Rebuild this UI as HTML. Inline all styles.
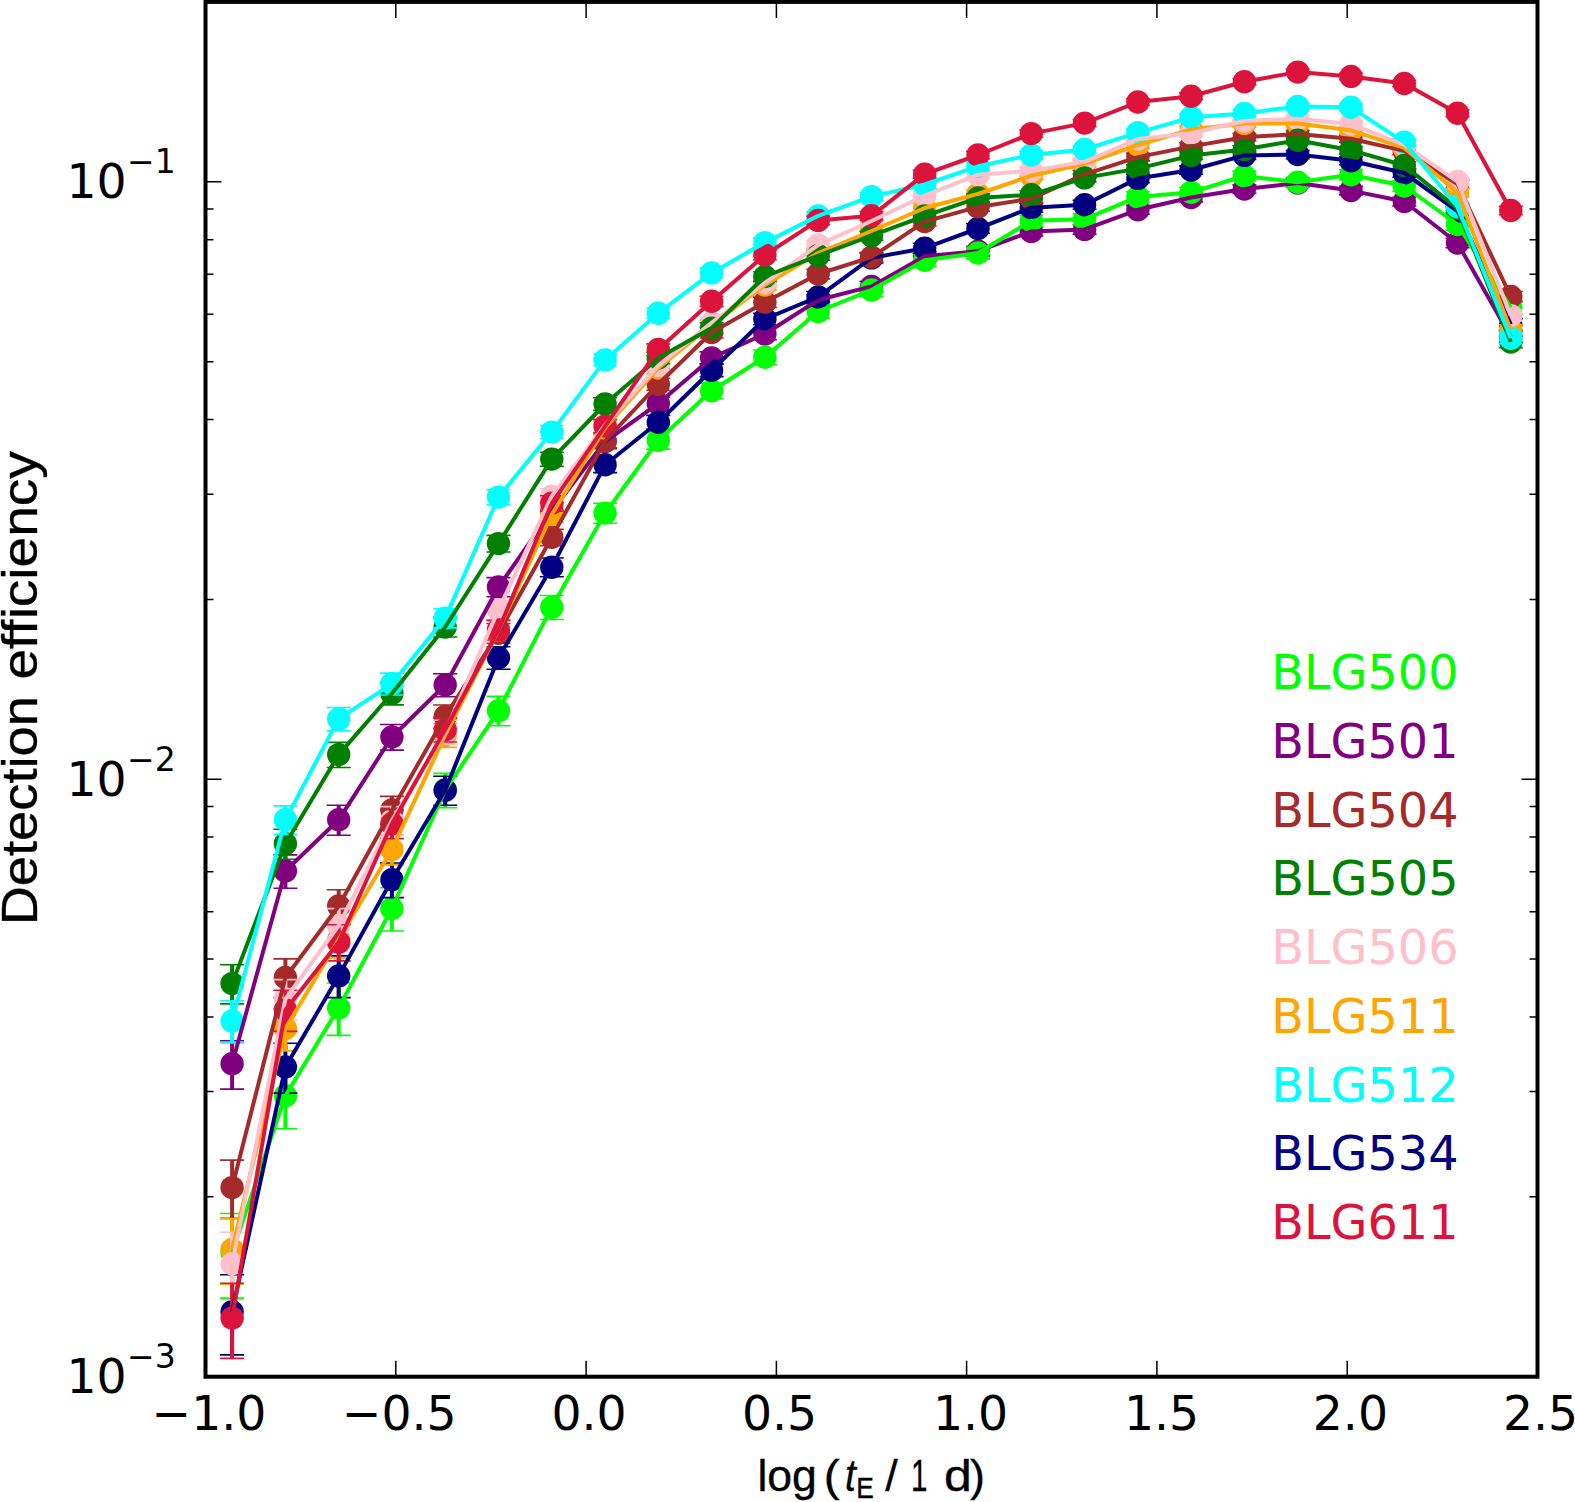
<!DOCTYPE html>
<html><head><meta charset="utf-8"><title>Detection efficiency</title>
<style>html,body{margin:0;padding:0;background:#fff;overflow:hidden}svg{display:block}
.t{font-family:"DejaVu Sans","Liberation Sans",sans-serif;font-size:47.3px;fill:#000}
.s{font-family:"DejaVu Sans","Liberation Sans",sans-serif;font-size:33.1px;fill:#000}
.a{font-family:"Liberation Sans","DejaVu Sans",sans-serif;fill:#000}
</style></head><body>
<svg width="1575" height="1502" viewBox="0 0 1575 1502">
<rect width="1575" height="1502" fill="#fff"/>
<g id="markers">
<g fill="#800080" stroke="#800080">
<path d="M232.1 1040.7V1089.1" stroke-width="4.0" fill="none"/><path d="M220.1 1040.7h24.0M220.1 1089.1h24.0" stroke-width="1.6" fill="none"/><circle cx="232.1" cy="1063.8" r="11.7" stroke="none"/>
<path d="M285.4 854.9V888.2" stroke-width="4.0" fill="none"/><path d="M273.4 854.9h24.0M273.4 888.2h24.0" stroke-width="1.6" fill="none"/><circle cx="285.4" cy="871.0" r="11.7" stroke="none"/>
<path d="M338.7 805.2V835.3" stroke-width="4.0" fill="none"/><path d="M326.7 805.2h24.0M326.7 835.3h24.0" stroke-width="1.6" fill="none"/><circle cx="338.7" cy="819.8" r="11.7" stroke="none"/>
<path d="M391.9 724.5V750.1" stroke-width="4.0" fill="none"/><path d="M379.9 724.5h24.0M379.9 750.1h24.0" stroke-width="1.6" fill="none"/><circle cx="391.9" cy="737.0" r="11.7" stroke="none"/>
<path d="M445.2 673.7V696.8" stroke-width="4.0" fill="none"/><path d="M433.2 673.7h24.0M433.2 696.8h24.0" stroke-width="1.6" fill="none"/><circle cx="445.2" cy="685.0" r="11.7" stroke="none"/>
<path d="M498.5 577.6V596.7" stroke-width="4.0" fill="none"/><path d="M486.5 577.6h24.0M486.5 596.7h24.0" stroke-width="1.6" fill="none"/><circle cx="498.5" cy="587.0" r="11.7" stroke="none"/>
<path d="M551.8 502.9V519.3" stroke-width="4.0" fill="none"/><path d="M539.8 502.9h24.0M539.8 519.3h24.0" stroke-width="1.6" fill="none"/><circle cx="551.8" cy="511.0" r="11.7" stroke="none"/>
<path d="M605.1 434.4V448.8" stroke-width="4.0" fill="none"/><path d="M593.1 434.4h24.0M593.1 448.8h24.0" stroke-width="1.6" fill="none"/><circle cx="605.1" cy="441.5" r="11.7" stroke="none"/>
<path d="M658.3 397.1V410.3" stroke-width="4.0" fill="none"/><path d="M646.3 397.1h24.0M646.3 410.3h24.0" stroke-width="1.6" fill="none"/><circle cx="658.3" cy="403.6" r="11.7" stroke="none"/>
<path d="M711.6 351.9V364.0" stroke-width="4.0" fill="none"/><path d="M699.6 351.9h24.0M699.6 364.0h24.0" stroke-width="1.6" fill="none"/><circle cx="711.6" cy="357.9" r="11.7" stroke="none"/>
<path d="M764.9 328.3V339.8" stroke-width="4.0" fill="none"/><path d="M752.9 328.3h24.0M752.9 339.8h24.0" stroke-width="1.6" fill="none"/><circle cx="764.9" cy="334.0" r="11.7" stroke="none"/>
<path d="M818.2 294.7V305.4" stroke-width="4.0" fill="none"/><path d="M806.2 294.7h24.0M806.2 305.4h24.0" stroke-width="1.6" fill="none"/><circle cx="818.2" cy="300.0" r="11.7" stroke="none"/>
<path d="M871.5 281.2V291.7" stroke-width="4.0" fill="none"/><path d="M859.5 281.2h24.0M859.5 291.7h24.0" stroke-width="1.6" fill="none"/><circle cx="871.5" cy="286.4" r="11.7" stroke="none"/>
<path d="M924.7 251.3V261.2" stroke-width="4.0" fill="none"/><path d="M912.7 251.3h24.0M912.7 261.2h24.0" stroke-width="1.6" fill="none"/><circle cx="924.7" cy="256.2" r="11.7" stroke="none"/>
<path d="M978.0 246.4V256.1" stroke-width="4.0" fill="none"/><path d="M966.0 246.4h24.0M966.0 256.1h24.0" stroke-width="1.6" fill="none"/><circle cx="978.0" cy="251.2" r="11.7" stroke="none"/>
<path d="M1031.3 226.8V236.1" stroke-width="4.0" fill="none"/><path d="M1019.3 226.8h24.0M1019.3 236.1h24.0" stroke-width="1.6" fill="none"/><circle cx="1031.3" cy="231.4" r="11.7" stroke="none"/>
<path d="M1084.6 224.8V234.1" stroke-width="4.0" fill="none"/><path d="M1072.6 224.8h24.0M1072.6 234.1h24.0" stroke-width="1.6" fill="none"/><circle cx="1084.6" cy="229.4" r="11.7" stroke="none"/>
<path d="M1137.9 205.4V214.3" stroke-width="4.0" fill="none"/><path d="M1125.9 205.4h24.0M1125.9 214.3h24.0" stroke-width="1.6" fill="none"/><circle cx="1137.9" cy="209.8" r="11.7" stroke="none"/>
<path d="M1191.1 193.2V201.9" stroke-width="4.0" fill="none"/><path d="M1179.1 193.2h24.0M1179.1 201.9h24.0" stroke-width="1.6" fill="none"/><circle cx="1191.1" cy="197.5" r="11.7" stroke="none"/>
<path d="M1244.4 184.9V193.4" stroke-width="4.0" fill="none"/><path d="M1232.4 184.9h24.0M1232.4 193.4h24.0" stroke-width="1.6" fill="none"/><circle cx="1244.4" cy="189.1" r="11.7" stroke="none"/>
<path d="M1297.7 178.9V187.3" stroke-width="4.0" fill="none"/><path d="M1285.7 178.9h24.0M1285.7 187.3h24.0" stroke-width="1.6" fill="none"/><circle cx="1297.7" cy="183.1" r="11.7" stroke="none"/>
<path d="M1351.0 186.4V194.9" stroke-width="4.0" fill="none"/><path d="M1339.0 186.4h24.0M1339.0 194.9h24.0" stroke-width="1.6" fill="none"/><circle cx="1351.0" cy="190.6" r="11.7" stroke="none"/>
<path d="M1404.3 197.2V205.9" stroke-width="4.0" fill="none"/><path d="M1392.3 197.2h24.0M1392.3 205.9h24.0" stroke-width="1.6" fill="none"/><circle cx="1404.3" cy="201.5" r="11.7" stroke="none"/>
<path d="M1457.5 238.3V247.8" stroke-width="4.0" fill="none"/><path d="M1445.5 238.3h24.0M1445.5 247.8h24.0" stroke-width="1.6" fill="none"/><circle cx="1457.5" cy="243.0" r="11.7" stroke="none"/>
<path d="M1510.8 331.3V342.9" stroke-width="4.0" fill="none"/><path d="M1498.8 331.3h24.0M1498.8 342.9h24.0" stroke-width="1.6" fill="none"/><circle cx="1510.8" cy="337.0" r="11.7" stroke="none"/>
</g>
<g fill="#00ff00" stroke="#00ff00">
<path d="M232.1 1213.5V1298.1" stroke-width="4.0" fill="none"/><path d="M220.1 1213.5h24.0M220.1 1298.1h24.0" stroke-width="1.6" fill="none"/><circle cx="232.1" cy="1252.4" r="11.7" stroke="none"/>
<path d="M285.4 1066.4V1128.7" stroke-width="4.0" fill="none"/><path d="M273.4 1066.4h24.0M273.4 1128.7h24.0" stroke-width="1.6" fill="none"/><circle cx="285.4" cy="1095.7" r="11.7" stroke="none"/>
<path d="M338.7 983.0V1035.4" stroke-width="4.0" fill="none"/><path d="M326.7 983.0h24.0M326.7 1035.4h24.0" stroke-width="1.6" fill="none"/><circle cx="338.7" cy="1007.9" r="11.7" stroke="none"/>
<path d="M391.9 887.8V931.0" stroke-width="4.0" fill="none"/><path d="M379.9 887.8h24.0M379.9 931.0h24.0" stroke-width="1.6" fill="none"/><circle cx="391.9" cy="908.5" r="11.7" stroke="none"/>
<path d="M445.2 773.4V807.7" stroke-width="4.0" fill="none"/><path d="M433.2 773.4h24.0M433.2 807.7h24.0" stroke-width="1.6" fill="none"/><circle cx="445.2" cy="790.0" r="11.7" stroke="none"/>
<path d="M498.5 696.4V725.8" stroke-width="4.0" fill="none"/><path d="M486.5 696.4h24.0M486.5 725.8h24.0" stroke-width="1.6" fill="none"/><circle cx="498.5" cy="710.7" r="11.7" stroke="none"/>
<path d="M551.8 595.5V619.5" stroke-width="4.0" fill="none"/><path d="M539.8 595.5h24.0M539.8 619.5h24.0" stroke-width="1.6" fill="none"/><circle cx="551.8" cy="607.2" r="11.7" stroke="none"/>
<path d="M605.1 503.3V523.2" stroke-width="4.0" fill="none"/><path d="M593.1 503.3h24.0M593.1 523.2h24.0" stroke-width="1.6" fill="none"/><circle cx="605.1" cy="513.1" r="11.7" stroke="none"/>
<path d="M658.3 431.8V449.1" stroke-width="4.0" fill="none"/><path d="M646.3 431.8h24.0M646.3 449.1h24.0" stroke-width="1.6" fill="none"/><circle cx="658.3" cy="440.3" r="11.7" stroke="none"/>
<path d="M711.6 383.1V398.7" stroke-width="4.0" fill="none"/><path d="M699.6 383.1h24.0M699.6 398.7h24.0" stroke-width="1.6" fill="none"/><circle cx="711.6" cy="390.8" r="11.7" stroke="none"/>
<path d="M764.9 350.0V364.6" stroke-width="4.0" fill="none"/><path d="M752.9 350.0h24.0M752.9 364.6h24.0" stroke-width="1.6" fill="none"/><circle cx="764.9" cy="357.2" r="11.7" stroke="none"/>
<path d="M818.2 305.0V318.2" stroke-width="4.0" fill="none"/><path d="M806.2 305.0h24.0M806.2 318.2h24.0" stroke-width="1.6" fill="none"/><circle cx="818.2" cy="311.5" r="11.7" stroke="none"/>
<path d="M871.5 283.7V296.4" stroke-width="4.0" fill="none"/><path d="M859.5 283.7h24.0M859.5 296.4h24.0" stroke-width="1.6" fill="none"/><circle cx="871.5" cy="290.0" r="11.7" stroke="none"/>
<path d="M924.7 254.4V266.3" stroke-width="4.0" fill="none"/><path d="M912.7 254.4h24.0M912.7 266.3h24.0" stroke-width="1.6" fill="none"/><circle cx="924.7" cy="260.3" r="11.7" stroke="none"/>
<path d="M978.0 247.2V258.9" stroke-width="4.0" fill="none"/><path d="M966.0 247.2h24.0M966.0 258.9h24.0" stroke-width="1.6" fill="none"/><circle cx="978.0" cy="253.0" r="11.7" stroke="none"/>
<path d="M1031.3 215.4V226.4" stroke-width="4.0" fill="none"/><path d="M1019.3 215.4h24.0M1019.3 226.4h24.0" stroke-width="1.6" fill="none"/><circle cx="1031.3" cy="220.8" r="11.7" stroke="none"/>
<path d="M1084.6 213.8V224.7" stroke-width="4.0" fill="none"/><path d="M1072.6 213.8h24.0M1072.6 224.7h24.0" stroke-width="1.6" fill="none"/><circle cx="1084.6" cy="219.2" r="11.7" stroke="none"/>
<path d="M1137.9 191.7V202.2" stroke-width="4.0" fill="none"/><path d="M1125.9 191.7h24.0M1125.9 202.2h24.0" stroke-width="1.6" fill="none"/><circle cx="1137.9" cy="196.9" r="11.7" stroke="none"/>
<path d="M1191.1 187.2V197.5" stroke-width="4.0" fill="none"/><path d="M1179.1 187.2h24.0M1179.1 197.5h24.0" stroke-width="1.6" fill="none"/><circle cx="1191.1" cy="192.3" r="11.7" stroke="none"/>
<path d="M1244.4 171.1V181.0" stroke-width="4.0" fill="none"/><path d="M1232.4 171.1h24.0M1232.4 181.0h24.0" stroke-width="1.6" fill="none"/><circle cx="1244.4" cy="176.0" r="11.7" stroke="none"/>
<path d="M1297.7 177.3V187.4" stroke-width="4.0" fill="none"/><path d="M1285.7 177.3h24.0M1285.7 187.4h24.0" stroke-width="1.6" fill="none"/><circle cx="1297.7" cy="182.3" r="11.7" stroke="none"/>
<path d="M1351.0 169.8V179.7" stroke-width="4.0" fill="none"/><path d="M1339.0 169.8h24.0M1339.0 179.7h24.0" stroke-width="1.6" fill="none"/><circle cx="1351.0" cy="174.7" r="11.7" stroke="none"/>
<path d="M1404.3 180.9V191.2" stroke-width="4.0" fill="none"/><path d="M1392.3 180.9h24.0M1392.3 191.2h24.0" stroke-width="1.6" fill="none"/><circle cx="1404.3" cy="186.0" r="11.7" stroke="none"/>
<path d="M1457.5 219.0V230.1" stroke-width="4.0" fill="none"/><path d="M1445.5 219.0h24.0M1445.5 230.1h24.0" stroke-width="1.6" fill="none"/><circle cx="1457.5" cy="224.5" r="11.7" stroke="none"/>
<path d="M1510.8 301.0V314.2" stroke-width="4.0" fill="none"/><path d="M1498.8 301.0h24.0M1498.8 314.2h24.0" stroke-width="1.6" fill="none"/><circle cx="1510.8" cy="307.5" r="11.7" stroke="none"/>
</g>
<g fill="#000080" stroke="#000080">
<path d="M232.1 1274.7V1354.9" stroke-width="4.0" fill="none"/><path d="M220.1 1274.7h24.0M220.1 1354.9h24.0" stroke-width="1.6" fill="none"/><circle cx="232.1" cy="1311.7" r="11.7" stroke="none"/>
<path d="M285.4 1043.3V1093.1" stroke-width="4.0" fill="none"/><path d="M273.4 1043.3h24.0M273.4 1093.1h24.0" stroke-width="1.6" fill="none"/><circle cx="285.4" cy="1067.0" r="11.7" stroke="none"/>
<path d="M338.7 955.9V997.6" stroke-width="4.0" fill="none"/><path d="M326.7 955.9h24.0M326.7 997.6h24.0" stroke-width="1.6" fill="none"/><circle cx="338.7" cy="975.9" r="11.7" stroke="none"/>
<path d="M391.9 863.0V897.6" stroke-width="4.0" fill="none"/><path d="M379.9 863.0h24.0M379.9 897.6h24.0" stroke-width="1.6" fill="none"/><circle cx="391.9" cy="879.7" r="11.7" stroke="none"/>
<path d="M445.2 776.2V805.2" stroke-width="4.0" fill="none"/><path d="M433.2 776.2h24.0M433.2 805.2h24.0" stroke-width="1.6" fill="none"/><circle cx="445.2" cy="790.3" r="11.7" stroke="none"/>
<path d="M498.5 646.7V669.2" stroke-width="4.0" fill="none"/><path d="M486.5 646.7h24.0M486.5 669.2h24.0" stroke-width="1.6" fill="none"/><circle cx="498.5" cy="657.7" r="11.7" stroke="none"/>
<path d="M551.8 558.0V576.8" stroke-width="4.0" fill="none"/><path d="M539.8 558.0h24.0M539.8 576.8h24.0" stroke-width="1.6" fill="none"/><circle cx="551.8" cy="567.2" r="11.7" stroke="none"/>
<path d="M605.1 457.3V472.6" stroke-width="4.0" fill="none"/><path d="M593.1 457.3h24.0M593.1 472.6h24.0" stroke-width="1.6" fill="none"/><circle cx="605.1" cy="464.8" r="11.7" stroke="none"/>
<path d="M658.3 415.4V429.4" stroke-width="4.0" fill="none"/><path d="M646.3 415.4h24.0M646.3 429.4h24.0" stroke-width="1.6" fill="none"/><circle cx="658.3" cy="422.3" r="11.7" stroke="none"/>
<path d="M711.6 363.9V376.6" stroke-width="4.0" fill="none"/><path d="M699.6 363.9h24.0M699.6 376.6h24.0" stroke-width="1.6" fill="none"/><circle cx="711.6" cy="370.2" r="11.7" stroke="none"/>
<path d="M764.9 313.4V324.8" stroke-width="4.0" fill="none"/><path d="M752.9 313.4h24.0M752.9 324.8h24.0" stroke-width="1.6" fill="none"/><circle cx="764.9" cy="319.0" r="11.7" stroke="none"/>
<path d="M818.2 291.5V302.4" stroke-width="4.0" fill="none"/><path d="M806.2 291.5h24.0M806.2 302.4h24.0" stroke-width="1.6" fill="none"/><circle cx="818.2" cy="296.9" r="11.7" stroke="none"/>
<path d="M871.5 252.9V263.0" stroke-width="4.0" fill="none"/><path d="M859.5 252.9h24.0M859.5 263.0h24.0" stroke-width="1.6" fill="none"/><circle cx="871.5" cy="257.9" r="11.7" stroke="none"/>
<path d="M924.7 243.3V253.2" stroke-width="4.0" fill="none"/><path d="M912.7 243.3h24.0M912.7 253.2h24.0" stroke-width="1.6" fill="none"/><circle cx="924.7" cy="248.2" r="11.7" stroke="none"/>
<path d="M978.0 223.8V233.3" stroke-width="4.0" fill="none"/><path d="M966.0 223.8h24.0M966.0 233.3h24.0" stroke-width="1.6" fill="none"/><circle cx="978.0" cy="228.5" r="11.7" stroke="none"/>
<path d="M1031.3 203.2V212.3" stroke-width="4.0" fill="none"/><path d="M1019.3 203.2h24.0M1019.3 212.3h24.0" stroke-width="1.6" fill="none"/><circle cx="1031.3" cy="207.7" r="11.7" stroke="none"/>
<path d="M1084.6 200.2V209.2" stroke-width="4.0" fill="none"/><path d="M1072.6 200.2h24.0M1072.6 209.2h24.0" stroke-width="1.6" fill="none"/><circle cx="1084.6" cy="204.7" r="11.7" stroke="none"/>
<path d="M1137.9 174.2V182.7" stroke-width="4.0" fill="none"/><path d="M1125.9 174.2h24.0M1125.9 182.7h24.0" stroke-width="1.6" fill="none"/><circle cx="1137.9" cy="178.4" r="11.7" stroke="none"/>
<path d="M1191.1 165.9V174.2" stroke-width="4.0" fill="none"/><path d="M1179.1 165.9h24.0M1179.1 174.2h24.0" stroke-width="1.6" fill="none"/><circle cx="1191.1" cy="170.0" r="11.7" stroke="none"/>
<path d="M1244.4 151.4V159.5" stroke-width="4.0" fill="none"/><path d="M1232.4 151.4h24.0M1232.4 159.5h24.0" stroke-width="1.6" fill="none"/><circle cx="1244.4" cy="155.4" r="11.7" stroke="none"/>
<path d="M1297.7 150.6V158.7" stroke-width="4.0" fill="none"/><path d="M1285.7 150.6h24.0M1285.7 158.7h24.0" stroke-width="1.6" fill="none"/><circle cx="1297.7" cy="154.6" r="11.7" stroke="none"/>
<path d="M1351.0 156.6V164.8" stroke-width="4.0" fill="none"/><path d="M1339.0 156.6h24.0M1339.0 164.8h24.0" stroke-width="1.6" fill="none"/><circle cx="1351.0" cy="160.7" r="11.7" stroke="none"/>
<path d="M1404.3 168.8V177.2" stroke-width="4.0" fill="none"/><path d="M1392.3 168.8h24.0M1392.3 177.2h24.0" stroke-width="1.6" fill="none"/><circle cx="1404.3" cy="173.0" r="11.7" stroke="none"/>
<path d="M1457.5 206.5V215.6" stroke-width="4.0" fill="none"/><path d="M1445.5 206.5h24.0M1445.5 215.6h24.0" stroke-width="1.6" fill="none"/><circle cx="1457.5" cy="211.0" r="11.7" stroke="none"/>
<path d="M1510.8 318.7V330.2" stroke-width="4.0" fill="none"/><path d="M1498.8 318.7h24.0M1498.8 330.2h24.0" stroke-width="1.6" fill="none"/><circle cx="1510.8" cy="324.4" r="11.7" stroke="none"/>
</g>
<g fill="#a52a2a" stroke="#a52a2a">
<path d="M232.1 1160.1V1218.4" stroke-width="4.0" fill="none"/><path d="M220.1 1160.1h24.0M220.1 1218.4h24.0" stroke-width="1.6" fill="none"/><circle cx="232.1" cy="1187.6" r="11.7" stroke="none"/>
<path d="M285.4 958.9V997.6" stroke-width="4.0" fill="none"/><path d="M273.4 958.9h24.0M273.4 997.6h24.0" stroke-width="1.6" fill="none"/><circle cx="285.4" cy="977.5" r="11.7" stroke="none"/>
<path d="M338.7 889.7V923.4" stroke-width="4.0" fill="none"/><path d="M326.7 889.7h24.0M326.7 923.4h24.0" stroke-width="1.6" fill="none"/><circle cx="338.7" cy="906.0" r="11.7" stroke="none"/>
<path d="M391.9 796.4V824.4" stroke-width="4.0" fill="none"/><path d="M379.9 796.4h24.0M379.9 824.4h24.0" stroke-width="1.6" fill="none"/><circle cx="391.9" cy="810.0" r="11.7" stroke="none"/>
<path d="M445.2 705.0V728.3" stroke-width="4.0" fill="none"/><path d="M433.2 705.0h24.0M433.2 728.3h24.0" stroke-width="1.6" fill="none"/><circle cx="445.2" cy="716.4" r="11.7" stroke="none"/>
<path d="M498.5 623.5V643.3" stroke-width="4.0" fill="none"/><path d="M486.5 623.5h24.0M486.5 643.3h24.0" stroke-width="1.6" fill="none"/><circle cx="498.5" cy="633.2" r="11.7" stroke="none"/>
<path d="M551.8 529.2V545.6" stroke-width="4.0" fill="none"/><path d="M539.8 529.2h24.0M539.8 545.6h24.0" stroke-width="1.6" fill="none"/><circle cx="551.8" cy="537.3" r="11.7" stroke="none"/>
<path d="M605.1 434.3V447.9" stroke-width="4.0" fill="none"/><path d="M593.1 434.3h24.0M593.1 447.9h24.0" stroke-width="1.6" fill="none"/><circle cx="605.1" cy="441.0" r="11.7" stroke="none"/>
<path d="M658.3 378.2V390.3" stroke-width="4.0" fill="none"/><path d="M646.3 378.2h24.0M646.3 390.3h24.0" stroke-width="1.6" fill="none"/><circle cx="658.3" cy="384.2" r="11.7" stroke="none"/>
<path d="M711.6 327.1V338.0" stroke-width="4.0" fill="none"/><path d="M699.6 327.1h24.0M699.6 338.0h24.0" stroke-width="1.6" fill="none"/><circle cx="711.6" cy="332.5" r="11.7" stroke="none"/>
<path d="M764.9 297.1V307.4" stroke-width="4.0" fill="none"/><path d="M752.9 297.1h24.0M752.9 307.4h24.0" stroke-width="1.6" fill="none"/><circle cx="764.9" cy="302.2" r="11.7" stroke="none"/>
<path d="M818.2 269.2V278.9" stroke-width="4.0" fill="none"/><path d="M806.2 269.2h24.0M806.2 278.9h24.0" stroke-width="1.6" fill="none"/><circle cx="818.2" cy="274.0" r="11.7" stroke="none"/>
<path d="M871.5 252.5V261.8" stroke-width="4.0" fill="none"/><path d="M859.5 252.5h24.0M859.5 261.8h24.0" stroke-width="1.6" fill="none"/><circle cx="871.5" cy="257.1" r="11.7" stroke="none"/>
<path d="M924.7 217.3V226.0" stroke-width="4.0" fill="none"/><path d="M912.7 217.3h24.0M912.7 226.0h24.0" stroke-width="1.6" fill="none"/><circle cx="924.7" cy="221.6" r="11.7" stroke="none"/>
<path d="M978.0 202.7V211.1" stroke-width="4.0" fill="none"/><path d="M966.0 202.7h24.0M966.0 211.1h24.0" stroke-width="1.6" fill="none"/><circle cx="978.0" cy="206.9" r="11.7" stroke="none"/>
<path d="M1031.3 194.5V202.7" stroke-width="4.0" fill="none"/><path d="M1019.3 194.5h24.0M1019.3 202.7h24.0" stroke-width="1.6" fill="none"/><circle cx="1031.3" cy="198.6" r="11.7" stroke="none"/>
<path d="M1084.6 170.5V178.3" stroke-width="4.0" fill="none"/><path d="M1072.6 170.5h24.0M1072.6 178.3h24.0" stroke-width="1.6" fill="none"/><circle cx="1084.6" cy="174.4" r="11.7" stroke="none"/>
<path d="M1137.9 153.4V160.9" stroke-width="4.0" fill="none"/><path d="M1125.9 153.4h24.0M1125.9 160.9h24.0" stroke-width="1.6" fill="none"/><circle cx="1137.9" cy="157.1" r="11.7" stroke="none"/>
<path d="M1191.1 142.8V150.1" stroke-width="4.0" fill="none"/><path d="M1179.1 142.8h24.0M1179.1 150.1h24.0" stroke-width="1.6" fill="none"/><circle cx="1191.1" cy="146.4" r="11.7" stroke="none"/>
<path d="M1244.4 133.6V140.8" stroke-width="4.0" fill="none"/><path d="M1232.4 133.6h24.0M1232.4 140.8h24.0" stroke-width="1.6" fill="none"/><circle cx="1244.4" cy="137.2" r="11.7" stroke="none"/>
<path d="M1297.7 130.5V137.7" stroke-width="4.0" fill="none"/><path d="M1285.7 130.5h24.0M1285.7 137.7h24.0" stroke-width="1.6" fill="none"/><circle cx="1297.7" cy="134.1" r="11.7" stroke="none"/>
<path d="M1351.0 135.1V142.3" stroke-width="4.0" fill="none"/><path d="M1339.0 135.1h24.0M1339.0 142.3h24.0" stroke-width="1.6" fill="none"/><circle cx="1351.0" cy="138.7" r="11.7" stroke="none"/>
<path d="M1404.3 147.2V154.6" stroke-width="4.0" fill="none"/><path d="M1392.3 147.2h24.0M1392.3 154.6h24.0" stroke-width="1.6" fill="none"/><circle cx="1404.3" cy="150.9" r="11.7" stroke="none"/>
<path d="M1457.5 180.0V188.0" stroke-width="4.0" fill="none"/><path d="M1445.5 180.0h24.0M1445.5 188.0h24.0" stroke-width="1.6" fill="none"/><circle cx="1457.5" cy="184.0" r="11.7" stroke="none"/>
<path d="M1510.8 291.5V301.6" stroke-width="4.0" fill="none"/><path d="M1498.8 291.5h24.0M1498.8 301.6h24.0" stroke-width="1.6" fill="none"/><circle cx="1510.8" cy="296.5" r="11.7" stroke="none"/>
</g>
<g fill="#ffa500" stroke="#ffa500">
<path d="M232.1 1218.6V1284.3" stroke-width="4.0" fill="none"/><path d="M220.1 1218.6h24.0M220.1 1284.3h24.0" stroke-width="1.6" fill="none"/><circle cx="232.1" cy="1249.4" r="11.7" stroke="none"/>
<path d="M285.4 1008.1V1050.9" stroke-width="4.0" fill="none"/><path d="M273.4 1008.1h24.0M273.4 1050.9h24.0" stroke-width="1.6" fill="none"/><circle cx="285.4" cy="1028.6" r="11.7" stroke="none"/>
<path d="M338.7 922.1V958.1" stroke-width="4.0" fill="none"/><path d="M326.7 922.1h24.0M326.7 958.1h24.0" stroke-width="1.6" fill="none"/><circle cx="338.7" cy="939.5" r="11.7" stroke="none"/>
<path d="M391.9 834.7V864.9" stroke-width="4.0" fill="none"/><path d="M379.9 834.7h24.0M379.9 864.9h24.0" stroke-width="1.6" fill="none"/><circle cx="391.9" cy="849.4" r="11.7" stroke="none"/>
<path d="M445.2 723.2V747.4" stroke-width="4.0" fill="none"/><path d="M433.2 723.2h24.0M433.2 747.4h24.0" stroke-width="1.6" fill="none"/><circle cx="445.2" cy="735.0" r="11.7" stroke="none"/>
<path d="M498.5 620.4V640.0" stroke-width="4.0" fill="none"/><path d="M486.5 620.4h24.0M486.5 640.0h24.0" stroke-width="1.6" fill="none"/><circle cx="498.5" cy="630.0" r="11.7" stroke="none"/>
<path d="M551.8 506.8V522.4" stroke-width="4.0" fill="none"/><path d="M539.8 506.8h24.0M539.8 522.4h24.0" stroke-width="1.6" fill="none"/><circle cx="551.8" cy="514.5" r="11.7" stroke="none"/>
<path d="M605.1 421.5V434.7" stroke-width="4.0" fill="none"/><path d="M593.1 421.5h24.0M593.1 434.7h24.0" stroke-width="1.6" fill="none"/><circle cx="605.1" cy="428.0" r="11.7" stroke="none"/>
<path d="M658.3 362.2V373.9" stroke-width="4.0" fill="none"/><path d="M646.3 362.2h24.0M646.3 373.9h24.0" stroke-width="1.6" fill="none"/><circle cx="658.3" cy="368.0" r="11.7" stroke="none"/>
<path d="M711.6 319.7V330.4" stroke-width="4.0" fill="none"/><path d="M699.6 319.7h24.0M699.6 330.4h24.0" stroke-width="1.6" fill="none"/><circle cx="711.6" cy="325.0" r="11.7" stroke="none"/>
<path d="M764.9 280.1V290.0" stroke-width="4.0" fill="none"/><path d="M752.9 280.1h24.0M752.9 290.0h24.0" stroke-width="1.6" fill="none"/><circle cx="764.9" cy="285.0" r="11.7" stroke="none"/>
<path d="M818.2 248.4V257.7" stroke-width="4.0" fill="none"/><path d="M806.2 248.4h24.0M806.2 257.7h24.0" stroke-width="1.6" fill="none"/><circle cx="818.2" cy="253.0" r="11.7" stroke="none"/>
<path d="M871.5 226.6V235.4" stroke-width="4.0" fill="none"/><path d="M859.5 226.6h24.0M859.5 235.4h24.0" stroke-width="1.6" fill="none"/><circle cx="871.5" cy="231.0" r="11.7" stroke="none"/>
<path d="M924.7 203.8V212.2" stroke-width="4.0" fill="none"/><path d="M912.7 203.8h24.0M912.7 212.2h24.0" stroke-width="1.6" fill="none"/><circle cx="924.7" cy="208.0" r="11.7" stroke="none"/>
<path d="M978.0 190.0V198.1" stroke-width="4.0" fill="none"/><path d="M966.0 190.0h24.0M966.0 198.1h24.0" stroke-width="1.6" fill="none"/><circle cx="978.0" cy="194.0" r="11.7" stroke="none"/>
<path d="M1031.3 171.8V179.6" stroke-width="4.0" fill="none"/><path d="M1019.3 171.8h24.0M1019.3 179.6h24.0" stroke-width="1.6" fill="none"/><circle cx="1031.3" cy="175.7" r="11.7" stroke="none"/>
<path d="M1084.6 159.9V167.5" stroke-width="4.0" fill="none"/><path d="M1072.6 159.9h24.0M1072.6 167.5h24.0" stroke-width="1.6" fill="none"/><circle cx="1084.6" cy="163.7" r="11.7" stroke="none"/>
<path d="M1137.9 141.4V148.7" stroke-width="4.0" fill="none"/><path d="M1125.9 141.4h24.0M1125.9 148.7h24.0" stroke-width="1.6" fill="none"/><circle cx="1137.9" cy="145.0" r="11.7" stroke="none"/>
<path d="M1191.1 126.1V133.2" stroke-width="4.0" fill="none"/><path d="M1179.1 126.1h24.0M1179.1 133.2h24.0" stroke-width="1.6" fill="none"/><circle cx="1191.1" cy="129.6" r="11.7" stroke="none"/>
<path d="M1244.4 120.1V127.1" stroke-width="4.0" fill="none"/><path d="M1232.4 120.1h24.0M1232.4 127.1h24.0" stroke-width="1.6" fill="none"/><circle cx="1244.4" cy="123.6" r="11.7" stroke="none"/>
<path d="M1297.7 119.9V126.9" stroke-width="4.0" fill="none"/><path d="M1285.7 119.9h24.0M1285.7 126.9h24.0" stroke-width="1.6" fill="none"/><circle cx="1297.7" cy="123.4" r="11.7" stroke="none"/>
<path d="M1351.0 126.8V133.9" stroke-width="4.0" fill="none"/><path d="M1339.0 126.8h24.0M1339.0 133.9h24.0" stroke-width="1.6" fill="none"/><circle cx="1351.0" cy="130.3" r="11.7" stroke="none"/>
<path d="M1404.3 144.2V151.6" stroke-width="4.0" fill="none"/><path d="M1392.3 144.2h24.0M1392.3 151.6h24.0" stroke-width="1.6" fill="none"/><circle cx="1404.3" cy="147.9" r="11.7" stroke="none"/>
<path d="M1457.5 188.5V196.6" stroke-width="4.0" fill="none"/><path d="M1445.5 188.5h24.0M1445.5 196.6h24.0" stroke-width="1.6" fill="none"/><circle cx="1457.5" cy="192.5" r="11.7" stroke="none"/>
<path d="M1510.8 324.7V335.5" stroke-width="4.0" fill="none"/><path d="M1498.8 324.7h24.0M1498.8 335.5h24.0" stroke-width="1.6" fill="none"/><circle cx="1510.8" cy="330.0" r="11.7" stroke="none"/>
</g>
<g fill="#ffc0cb" stroke="#ffc0cb">
<path d="M232.1 1232.2V1299.8" stroke-width="4.0" fill="none"/><path d="M220.1 1232.2h24.0M220.1 1299.8h24.0" stroke-width="1.6" fill="none"/><circle cx="232.1" cy="1263.8" r="11.7" stroke="none"/>
<path d="M285.4 979.6V1020.0" stroke-width="4.0" fill="none"/><path d="M273.4 979.6h24.0M273.4 1020.0h24.0" stroke-width="1.6" fill="none"/><circle cx="285.4" cy="999.0" r="11.7" stroke="none"/>
<path d="M338.7 908.6V943.6" stroke-width="4.0" fill="none"/><path d="M326.7 908.6h24.0M326.7 943.6h24.0" stroke-width="1.6" fill="none"/><circle cx="338.7" cy="925.5" r="11.7" stroke="none"/>
<path d="M391.9 806.6V835.2" stroke-width="4.0" fill="none"/><path d="M379.9 806.6h24.0M379.9 835.2h24.0" stroke-width="1.6" fill="none"/><circle cx="391.9" cy="820.5" r="11.7" stroke="none"/>
<path d="M445.2 720.3V744.3" stroke-width="4.0" fill="none"/><path d="M433.2 720.3h24.0M433.2 744.3h24.0" stroke-width="1.6" fill="none"/><circle cx="445.2" cy="732.0" r="11.7" stroke="none"/>
<path d="M498.5 600.5V619.4" stroke-width="4.0" fill="none"/><path d="M486.5 600.5h24.0M486.5 619.4h24.0" stroke-width="1.6" fill="none"/><circle cx="498.5" cy="609.8" r="11.7" stroke="none"/>
<path d="M551.8 488.8V503.9" stroke-width="4.0" fill="none"/><path d="M539.8 488.8h24.0M539.8 503.9h24.0" stroke-width="1.6" fill="none"/><circle cx="551.8" cy="496.2" r="11.7" stroke="none"/>
<path d="M605.1 418.5V431.6" stroke-width="4.0" fill="none"/><path d="M593.1 418.5h24.0M593.1 431.6h24.0" stroke-width="1.6" fill="none"/><circle cx="605.1" cy="425.0" r="11.7" stroke="none"/>
<path d="M658.3 359.9V371.5" stroke-width="4.0" fill="none"/><path d="M646.3 359.9h24.0M646.3 371.5h24.0" stroke-width="1.6" fill="none"/><circle cx="658.3" cy="365.6" r="11.7" stroke="none"/>
<path d="M711.6 317.5V328.2" stroke-width="4.0" fill="none"/><path d="M699.6 317.5h24.0M699.6 328.2h24.0" stroke-width="1.6" fill="none"/><circle cx="711.6" cy="322.8" r="11.7" stroke="none"/>
<path d="M764.9 277.9V287.8" stroke-width="4.0" fill="none"/><path d="M752.9 277.9h24.0M752.9 287.8h24.0" stroke-width="1.6" fill="none"/><circle cx="764.9" cy="282.8" r="11.7" stroke="none"/>
<path d="M818.2 240.5V249.6" stroke-width="4.0" fill="none"/><path d="M806.2 240.5h24.0M806.2 249.6h24.0" stroke-width="1.6" fill="none"/><circle cx="818.2" cy="245.0" r="11.7" stroke="none"/>
<path d="M871.5 216.7V225.3" stroke-width="4.0" fill="none"/><path d="M859.5 216.7h24.0M859.5 225.3h24.0" stroke-width="1.6" fill="none"/><circle cx="871.5" cy="221.0" r="11.7" stroke="none"/>
<path d="M924.7 191.4V199.6" stroke-width="4.0" fill="none"/><path d="M912.7 191.4h24.0M912.7 199.6h24.0" stroke-width="1.6" fill="none"/><circle cx="924.7" cy="195.5" r="11.7" stroke="none"/>
<path d="M978.0 170.8V178.6" stroke-width="4.0" fill="none"/><path d="M966.0 170.8h24.0M966.0 178.6h24.0" stroke-width="1.6" fill="none"/><circle cx="978.0" cy="174.7" r="11.7" stroke="none"/>
<path d="M1031.3 167.1V174.8" stroke-width="4.0" fill="none"/><path d="M1019.3 167.1h24.0M1019.3 174.8h24.0" stroke-width="1.6" fill="none"/><circle cx="1031.3" cy="170.9" r="11.7" stroke="none"/>
<path d="M1084.6 158.0V165.6" stroke-width="4.0" fill="none"/><path d="M1072.6 158.0h24.0M1072.6 165.6h24.0" stroke-width="1.6" fill="none"/><circle cx="1084.6" cy="161.8" r="11.7" stroke="none"/>
<path d="M1137.9 135.4V142.6" stroke-width="4.0" fill="none"/><path d="M1125.9 135.4h24.0M1125.9 142.6h24.0" stroke-width="1.6" fill="none"/><circle cx="1137.9" cy="139.0" r="11.7" stroke="none"/>
<path d="M1191.1 129.8V136.9" stroke-width="4.0" fill="none"/><path d="M1179.1 129.8h24.0M1179.1 136.9h24.0" stroke-width="1.6" fill="none"/><circle cx="1191.1" cy="133.3" r="11.7" stroke="none"/>
<path d="M1244.4 117.5V124.5" stroke-width="4.0" fill="none"/><path d="M1232.4 117.5h24.0M1232.4 124.5h24.0" stroke-width="1.6" fill="none"/><circle cx="1244.4" cy="121.0" r="11.7" stroke="none"/>
<path d="M1297.7 115.4V122.3" stroke-width="4.0" fill="none"/><path d="M1285.7 115.4h24.0M1285.7 122.3h24.0" stroke-width="1.6" fill="none"/><circle cx="1297.7" cy="118.8" r="11.7" stroke="none"/>
<path d="M1351.0 120.6V127.6" stroke-width="4.0" fill="none"/><path d="M1339.0 120.6h24.0M1339.0 127.6h24.0" stroke-width="1.6" fill="none"/><circle cx="1351.0" cy="124.1" r="11.7" stroke="none"/>
<path d="M1404.3 141.2V148.5" stroke-width="4.0" fill="none"/><path d="M1392.3 141.2h24.0M1392.3 148.5h24.0" stroke-width="1.6" fill="none"/><circle cx="1404.3" cy="144.8" r="11.7" stroke="none"/>
<path d="M1457.5 177.6V185.5" stroke-width="4.0" fill="none"/><path d="M1445.5 177.6h24.0M1445.5 185.5h24.0" stroke-width="1.6" fill="none"/><circle cx="1457.5" cy="181.5" r="11.7" stroke="none"/>
<path d="M1510.8 310.4V320.9" stroke-width="4.0" fill="none"/><path d="M1498.8 310.4h24.0M1498.8 320.9h24.0" stroke-width="1.6" fill="none"/><circle cx="1510.8" cy="315.6" r="11.7" stroke="none"/>
</g>
<g fill="#008000" stroke="#008000">
<path d="M232.1 964.7V1003.9" stroke-width="4.0" fill="none"/><path d="M220.1 964.7h24.0M220.1 1003.9h24.0" stroke-width="1.6" fill="none"/><circle cx="232.1" cy="983.6" r="11.7" stroke="none"/>
<path d="M285.4 829.3V859.2" stroke-width="4.0" fill="none"/><path d="M273.4 829.3h24.0M273.4 859.2h24.0" stroke-width="1.6" fill="none"/><circle cx="285.4" cy="843.8" r="11.7" stroke="none"/>
<path d="M338.7 742.4V767.5" stroke-width="4.0" fill="none"/><path d="M326.7 742.4h24.0M326.7 767.5h24.0" stroke-width="1.6" fill="none"/><circle cx="338.7" cy="754.6" r="11.7" stroke="none"/>
<path d="M391.9 682.6V704.9" stroke-width="4.0" fill="none"/><path d="M379.9 682.6h24.0M379.9 704.9h24.0" stroke-width="1.6" fill="none"/><circle cx="391.9" cy="693.5" r="11.7" stroke="none"/>
<path d="M445.2 617.4V637.0" stroke-width="4.0" fill="none"/><path d="M433.2 617.4h24.0M433.2 637.0h24.0" stroke-width="1.6" fill="none"/><circle cx="445.2" cy="627.0" r="11.7" stroke="none"/>
<path d="M498.5 535.4V552.0" stroke-width="4.0" fill="none"/><path d="M486.5 535.4h24.0M486.5 552.0h24.0" stroke-width="1.6" fill="none"/><circle cx="498.5" cy="543.6" r="11.7" stroke="none"/>
<path d="M551.8 452.2V466.2" stroke-width="4.0" fill="none"/><path d="M539.8 452.2h24.0M539.8 466.2h24.0" stroke-width="1.6" fill="none"/><circle cx="551.8" cy="459.1" r="11.7" stroke="none"/>
<path d="M605.1 397.8V410.4" stroke-width="4.0" fill="none"/><path d="M593.1 397.8h24.0M593.1 410.4h24.0" stroke-width="1.6" fill="none"/><circle cx="605.1" cy="404.0" r="11.7" stroke="none"/>
<path d="M658.3 352.3V363.8" stroke-width="4.0" fill="none"/><path d="M646.3 352.3h24.0M646.3 363.8h24.0" stroke-width="1.6" fill="none"/><circle cx="658.3" cy="358.0" r="11.7" stroke="none"/>
<path d="M711.6 322.8V333.5" stroke-width="4.0" fill="none"/><path d="M699.6 322.8h24.0M699.6 333.5h24.0" stroke-width="1.6" fill="none"/><circle cx="711.6" cy="328.1" r="11.7" stroke="none"/>
<path d="M764.9 271.7V281.4" stroke-width="4.0" fill="none"/><path d="M752.9 271.7h24.0M752.9 281.4h24.0" stroke-width="1.6" fill="none"/><circle cx="764.9" cy="276.5" r="11.7" stroke="none"/>
<path d="M818.2 251.0V260.3" stroke-width="4.0" fill="none"/><path d="M806.2 251.0h24.0M806.2 260.3h24.0" stroke-width="1.6" fill="none"/><circle cx="818.2" cy="255.6" r="11.7" stroke="none"/>
<path d="M871.5 231.3V240.2" stroke-width="4.0" fill="none"/><path d="M859.5 231.3h24.0M859.5 240.2h24.0" stroke-width="1.6" fill="none"/><circle cx="871.5" cy="235.7" r="11.7" stroke="none"/>
<path d="M924.7 211.8V220.3" stroke-width="4.0" fill="none"/><path d="M912.7 211.8h24.0M912.7 220.3h24.0" stroke-width="1.6" fill="none"/><circle cx="924.7" cy="216.0" r="11.7" stroke="none"/>
<path d="M978.0 193.8V202.0" stroke-width="4.0" fill="none"/><path d="M966.0 193.8h24.0M966.0 202.0h24.0" stroke-width="1.6" fill="none"/><circle cx="978.0" cy="197.9" r="11.7" stroke="none"/>
<path d="M1031.3 190.8V198.9" stroke-width="4.0" fill="none"/><path d="M1019.3 190.8h24.0M1019.3 198.9h24.0" stroke-width="1.6" fill="none"/><circle cx="1031.3" cy="194.8" r="11.7" stroke="none"/>
<path d="M1084.6 174.0V181.9" stroke-width="4.0" fill="none"/><path d="M1072.6 174.0h24.0M1072.6 181.9h24.0" stroke-width="1.6" fill="none"/><circle cx="1084.6" cy="177.9" r="11.7" stroke="none"/>
<path d="M1137.9 164.8V172.5" stroke-width="4.0" fill="none"/><path d="M1125.9 164.8h24.0M1125.9 172.5h24.0" stroke-width="1.6" fill="none"/><circle cx="1137.9" cy="168.6" r="11.7" stroke="none"/>
<path d="M1191.1 151.9V159.4" stroke-width="4.0" fill="none"/><path d="M1179.1 151.9h24.0M1179.1 159.4h24.0" stroke-width="1.6" fill="none"/><circle cx="1191.1" cy="155.6" r="11.7" stroke="none"/>
<path d="M1244.4 145.7V153.1" stroke-width="4.0" fill="none"/><path d="M1232.4 145.7h24.0M1232.4 153.1h24.0" stroke-width="1.6" fill="none"/><circle cx="1244.4" cy="149.4" r="11.7" stroke="none"/>
<path d="M1297.7 136.6V143.9" stroke-width="4.0" fill="none"/><path d="M1285.7 136.6h24.0M1285.7 143.9h24.0" stroke-width="1.6" fill="none"/><circle cx="1297.7" cy="140.2" r="11.7" stroke="none"/>
<path d="M1351.0 146.5V153.9" stroke-width="4.0" fill="none"/><path d="M1339.0 146.5h24.0M1339.0 153.9h24.0" stroke-width="1.6" fill="none"/><circle cx="1351.0" cy="150.2" r="11.7" stroke="none"/>
<path d="M1404.3 161.7V169.4" stroke-width="4.0" fill="none"/><path d="M1392.3 161.7h24.0M1392.3 169.4h24.0" stroke-width="1.6" fill="none"/><circle cx="1404.3" cy="165.5" r="11.7" stroke="none"/>
<path d="M1457.5 204.4V212.8" stroke-width="4.0" fill="none"/><path d="M1445.5 204.4h24.0M1445.5 212.8h24.0" stroke-width="1.6" fill="none"/><circle cx="1457.5" cy="208.6" r="11.7" stroke="none"/>
<path d="M1510.8 336.5V347.6" stroke-width="4.0" fill="none"/><path d="M1498.8 336.5h24.0M1498.8 347.6h24.0" stroke-width="1.6" fill="none"/><circle cx="1510.8" cy="342.0" r="11.7" stroke="none"/>
</g>
<g fill="#00ffff" stroke="#00ffff">
<path d="M232.1 1000.8V1042.9" stroke-width="4.0" fill="none"/><path d="M220.1 1000.8h24.0M220.1 1042.9h24.0" stroke-width="1.6" fill="none"/><circle cx="232.1" cy="1021.0" r="11.7" stroke="none"/>
<path d="M285.4 805.9V834.4" stroke-width="4.0" fill="none"/><path d="M273.4 805.9h24.0M273.4 834.4h24.0" stroke-width="1.6" fill="none"/><circle cx="285.4" cy="819.8" r="11.7" stroke="none"/>
<path d="M338.7 707.5V730.9" stroke-width="4.0" fill="none"/><path d="M326.7 707.5h24.0M326.7 730.9h24.0" stroke-width="1.6" fill="none"/><circle cx="338.7" cy="718.9" r="11.7" stroke="none"/>
<path d="M391.9 673.1V695.0" stroke-width="4.0" fill="none"/><path d="M379.9 673.1h24.0M379.9 695.0h24.0" stroke-width="1.6" fill="none"/><circle cx="391.9" cy="683.8" r="11.7" stroke="none"/>
<path d="M445.2 608.7V627.9" stroke-width="4.0" fill="none"/><path d="M433.2 608.7h24.0M433.2 627.9h24.0" stroke-width="1.6" fill="none"/><circle cx="445.2" cy="618.1" r="11.7" stroke="none"/>
<path d="M498.5 489.6V504.8" stroke-width="4.0" fill="none"/><path d="M486.5 489.6h24.0M486.5 504.8h24.0" stroke-width="1.6" fill="none"/><circle cx="498.5" cy="497.1" r="11.7" stroke="none"/>
<path d="M551.8 425.5V438.8" stroke-width="4.0" fill="none"/><path d="M539.8 425.5h24.0M539.8 438.8h24.0" stroke-width="1.6" fill="none"/><circle cx="551.8" cy="432.1" r="11.7" stroke="none"/>
<path d="M605.1 354.2V365.7" stroke-width="4.0" fill="none"/><path d="M593.1 354.2h24.0M593.1 365.7h24.0" stroke-width="1.6" fill="none"/><circle cx="605.1" cy="359.9" r="11.7" stroke="none"/>
<path d="M658.3 308.0V318.5" stroke-width="4.0" fill="none"/><path d="M646.3 308.0h24.0M646.3 318.5h24.0" stroke-width="1.6" fill="none"/><circle cx="658.3" cy="313.2" r="11.7" stroke="none"/>
<path d="M711.6 268.1V277.8" stroke-width="4.0" fill="none"/><path d="M699.6 268.1h24.0M699.6 277.8h24.0" stroke-width="1.6" fill="none"/><circle cx="711.6" cy="272.9" r="11.7" stroke="none"/>
<path d="M764.9 238.1V247.2" stroke-width="4.0" fill="none"/><path d="M752.9 238.1h24.0M752.9 247.2h24.0" stroke-width="1.6" fill="none"/><circle cx="764.9" cy="242.6" r="11.7" stroke="none"/>
<path d="M818.2 211.7V220.2" stroke-width="4.0" fill="none"/><path d="M806.2 211.7h24.0M806.2 220.2h24.0" stroke-width="1.6" fill="none"/><circle cx="818.2" cy="215.9" r="11.7" stroke="none"/>
<path d="M871.5 192.5V200.7" stroke-width="4.0" fill="none"/><path d="M859.5 192.5h24.0M859.5 200.7h24.0" stroke-width="1.6" fill="none"/><circle cx="871.5" cy="196.6" r="11.7" stroke="none"/>
<path d="M924.7 180.5V188.5" stroke-width="4.0" fill="none"/><path d="M912.7 180.5h24.0M912.7 188.5h24.0" stroke-width="1.6" fill="none"/><circle cx="924.7" cy="184.5" r="11.7" stroke="none"/>
<path d="M978.0 162.5V170.2" stroke-width="4.0" fill="none"/><path d="M966.0 162.5h24.0M966.0 170.2h24.0" stroke-width="1.6" fill="none"/><circle cx="978.0" cy="166.3" r="11.7" stroke="none"/>
<path d="M1031.3 151.3V158.8" stroke-width="4.0" fill="none"/><path d="M1019.3 151.3h24.0M1019.3 158.8h24.0" stroke-width="1.6" fill="none"/><circle cx="1031.3" cy="155.0" r="11.7" stroke="none"/>
<path d="M1084.6 145.8V153.2" stroke-width="4.0" fill="none"/><path d="M1072.6 145.8h24.0M1072.6 153.2h24.0" stroke-width="1.6" fill="none"/><circle cx="1084.6" cy="149.5" r="11.7" stroke="none"/>
<path d="M1137.9 129.1V136.2" stroke-width="4.0" fill="none"/><path d="M1125.9 129.1h24.0M1125.9 136.2h24.0" stroke-width="1.6" fill="none"/><circle cx="1137.9" cy="132.6" r="11.7" stroke="none"/>
<path d="M1191.1 113.9V120.8" stroke-width="4.0" fill="none"/><path d="M1179.1 113.9h24.0M1179.1 120.8h24.0" stroke-width="1.6" fill="none"/><circle cx="1191.1" cy="117.3" r="11.7" stroke="none"/>
<path d="M1244.4 110.0V116.8" stroke-width="4.0" fill="none"/><path d="M1232.4 110.0h24.0M1232.4 116.8h24.0" stroke-width="1.6" fill="none"/><circle cx="1244.4" cy="113.4" r="11.7" stroke="none"/>
<path d="M1297.7 103.2V109.9" stroke-width="4.0" fill="none"/><path d="M1285.7 103.2h24.0M1285.7 109.9h24.0" stroke-width="1.6" fill="none"/><circle cx="1297.7" cy="106.5" r="11.7" stroke="none"/>
<path d="M1351.0 103.9V110.7" stroke-width="4.0" fill="none"/><path d="M1339.0 103.9h24.0M1339.0 110.7h24.0" stroke-width="1.6" fill="none"/><circle cx="1351.0" cy="107.3" r="11.7" stroke="none"/>
<path d="M1404.3 138.7V146.0" stroke-width="4.0" fill="none"/><path d="M1392.3 138.7h24.0M1392.3 146.0h24.0" stroke-width="1.6" fill="none"/><circle cx="1404.3" cy="142.3" r="11.7" stroke="none"/>
<path d="M1457.5 202.6V211.0" stroke-width="4.0" fill="none"/><path d="M1445.5 202.6h24.0M1445.5 211.0h24.0" stroke-width="1.6" fill="none"/><circle cx="1457.5" cy="206.8" r="11.7" stroke="none"/>
<path d="M1510.8 332.8V343.8" stroke-width="4.0" fill="none"/><path d="M1498.8 332.8h24.0M1498.8 343.8h24.0" stroke-width="1.6" fill="none"/><circle cx="1510.8" cy="338.2" r="11.7" stroke="none"/>
</g>
<g fill="#dc143c" stroke="#dc143c">
<path d="M232.1 1283.2V1358.4" stroke-width="4.0" fill="none"/><path d="M220.1 1283.2h24.0M220.1 1358.4h24.0" stroke-width="1.6" fill="none"/><circle cx="232.1" cy="1318.1" r="11.7" stroke="none"/>
<path d="M285.4 990.2V1031.4" stroke-width="4.0" fill="none"/><path d="M273.4 990.2h24.0M273.4 1031.4h24.0" stroke-width="1.6" fill="none"/><circle cx="285.4" cy="1010.0" r="11.7" stroke="none"/>
<path d="M338.7 924.7V960.9" stroke-width="4.0" fill="none"/><path d="M326.7 924.7h24.0M326.7 960.9h24.0" stroke-width="1.6" fill="none"/><circle cx="338.7" cy="942.2" r="11.7" stroke="none"/>
<path d="M391.9 809.8V838.6" stroke-width="4.0" fill="none"/><path d="M379.9 809.8h24.0M379.9 838.6h24.0" stroke-width="1.6" fill="none"/><circle cx="391.9" cy="823.8" r="11.7" stroke="none"/>
<path d="M445.2 718.1V742.0" stroke-width="4.0" fill="none"/><path d="M433.2 718.1h24.0M433.2 742.0h24.0" stroke-width="1.6" fill="none"/><circle cx="445.2" cy="729.8" r="11.7" stroke="none"/>
<path d="M498.5 620.4V640.0" stroke-width="4.0" fill="none"/><path d="M486.5 620.4h24.0M486.5 640.0h24.0" stroke-width="1.6" fill="none"/><circle cx="498.5" cy="630.0" r="11.7" stroke="none"/>
<path d="M551.8 495.8V511.1" stroke-width="4.0" fill="none"/><path d="M539.8 495.8h24.0M539.8 511.1h24.0" stroke-width="1.6" fill="none"/><circle cx="551.8" cy="503.3" r="11.7" stroke="none"/>
<path d="M605.1 419.6V432.7" stroke-width="4.0" fill="none"/><path d="M593.1 419.6h24.0M593.1 432.7h24.0" stroke-width="1.6" fill="none"/><circle cx="605.1" cy="426.1" r="11.7" stroke="none"/>
<path d="M658.3 343.9V355.2" stroke-width="4.0" fill="none"/><path d="M646.3 343.9h24.0M646.3 355.2h24.0" stroke-width="1.6" fill="none"/><circle cx="658.3" cy="349.5" r="11.7" stroke="none"/>
<path d="M711.6 296.3V306.4" stroke-width="4.0" fill="none"/><path d="M699.6 296.3h24.0M699.6 306.4h24.0" stroke-width="1.6" fill="none"/><circle cx="711.6" cy="301.3" r="11.7" stroke="none"/>
<path d="M764.9 250.4V259.7" stroke-width="4.0" fill="none"/><path d="M752.9 250.4h24.0M752.9 259.7h24.0" stroke-width="1.6" fill="none"/><circle cx="764.9" cy="255.0" r="11.7" stroke="none"/>
<path d="M818.2 216.1V224.7" stroke-width="4.0" fill="none"/><path d="M806.2 216.1h24.0M806.2 224.7h24.0" stroke-width="1.6" fill="none"/><circle cx="818.2" cy="220.4" r="11.7" stroke="none"/>
<path d="M871.5 211.6V220.1" stroke-width="4.0" fill="none"/><path d="M859.5 211.6h24.0M859.5 220.1h24.0" stroke-width="1.6" fill="none"/><circle cx="871.5" cy="215.8" r="11.7" stroke="none"/>
<path d="M924.7 170.3V178.1" stroke-width="4.0" fill="none"/><path d="M912.7 170.3h24.0M912.7 178.1h24.0" stroke-width="1.6" fill="none"/><circle cx="924.7" cy="174.2" r="11.7" stroke="none"/>
<path d="M978.0 151.3V158.8" stroke-width="4.0" fill="none"/><path d="M966.0 151.3h24.0M966.0 158.8h24.0" stroke-width="1.6" fill="none"/><circle cx="978.0" cy="155.0" r="11.7" stroke="none"/>
<path d="M1031.3 130.1V137.2" stroke-width="4.0" fill="none"/><path d="M1019.3 130.1h24.0M1019.3 137.2h24.0" stroke-width="1.6" fill="none"/><circle cx="1031.3" cy="133.6" r="11.7" stroke="none"/>
<path d="M1084.6 119.6V126.6" stroke-width="4.0" fill="none"/><path d="M1072.6 119.6h24.0M1072.6 126.6h24.0" stroke-width="1.6" fill="none"/><circle cx="1084.6" cy="123.1" r="11.7" stroke="none"/>
<path d="M1137.9 98.7V105.4" stroke-width="4.0" fill="none"/><path d="M1125.9 98.7h24.0M1125.9 105.4h24.0" stroke-width="1.6" fill="none"/><circle cx="1137.9" cy="102.0" r="11.7" stroke="none"/>
<path d="M1191.1 92.9V99.5" stroke-width="4.0" fill="none"/><path d="M1179.1 92.9h24.0M1179.1 99.5h24.0" stroke-width="1.6" fill="none"/><circle cx="1191.1" cy="96.2" r="11.7" stroke="none"/>
<path d="M1244.4 78.5V84.9" stroke-width="4.0" fill="none"/><path d="M1232.4 78.5h24.0M1232.4 84.9h24.0" stroke-width="1.6" fill="none"/><circle cx="1244.4" cy="81.7" r="11.7" stroke="none"/>
<path d="M1297.7 69.0V75.2" stroke-width="4.0" fill="none"/><path d="M1285.7 69.0h24.0M1285.7 75.2h24.0" stroke-width="1.6" fill="none"/><circle cx="1297.7" cy="72.1" r="11.7" stroke="none"/>
<path d="M1351.0 73.3V79.6" stroke-width="4.0" fill="none"/><path d="M1339.0 73.3h24.0M1339.0 79.6h24.0" stroke-width="1.6" fill="none"/><circle cx="1351.0" cy="76.4" r="11.7" stroke="none"/>
<path d="M1404.3 80.3V86.7" stroke-width="4.0" fill="none"/><path d="M1392.3 80.3h24.0M1392.3 86.7h24.0" stroke-width="1.6" fill="none"/><circle cx="1404.3" cy="83.5" r="11.7" stroke="none"/>
<path d="M1457.5 109.9V116.7" stroke-width="4.0" fill="none"/><path d="M1445.5 109.9h24.0M1445.5 116.7h24.0" stroke-width="1.6" fill="none"/><circle cx="1457.5" cy="113.3" r="11.7" stroke="none"/>
<path d="M1510.8 206.3V214.8" stroke-width="4.0" fill="none"/><path d="M1498.8 206.3h24.0M1498.8 214.8h24.0" stroke-width="1.6" fill="none"/><circle cx="1510.8" cy="210.5" r="11.7" stroke="none"/>
</g>
</g>
<g id="lines" fill="none" stroke-linejoin="round" stroke-linecap="butt">
<polyline points="232.1,1063.8 285.4,871.0 338.7,819.8 391.9,737.0 445.2,685.0 498.5,587.0 551.8,511.0 605.1,441.5 658.3,403.6 711.6,357.9 764.9,334.0 818.2,300.0 871.5,286.4 924.7,256.2 978.0,251.2 1031.3,231.4 1084.6,229.4 1137.9,209.8 1191.1,197.5 1244.4,189.1 1297.7,183.1 1351.0,190.6 1404.3,201.5 1457.5,243.0 1510.8,337.0" stroke="#800080" stroke-width="4.0"/>
<polyline points="232.1,1252.4 285.4,1095.7 338.7,1007.9 391.9,908.5 445.2,790.0 498.5,710.7 551.8,607.2 605.1,513.1 658.3,440.3 711.6,390.8 764.9,357.2 818.2,311.5 871.5,290.0 924.7,260.3 978.0,253.0 1031.3,220.8 1084.6,219.2 1137.9,196.9 1191.1,192.3 1244.4,176.0 1297.7,182.3 1351.0,174.7 1404.3,186.0 1457.5,224.5 1510.8,307.5" stroke="#00ff00" stroke-width="4.0"/>
<polyline points="232.1,1311.7 285.4,1067.0 338.7,975.9 391.9,879.7 445.2,790.3 498.5,657.7 551.8,567.2 605.1,464.8 658.3,422.3 711.6,370.2 764.9,319.0 818.2,296.9 871.5,257.9 924.7,248.2 978.0,228.5 1031.3,207.7 1084.6,204.7 1137.9,178.4 1191.1,170.0 1244.4,155.4 1297.7,154.6 1351.0,160.7 1404.3,173.0 1457.5,211.0 1510.8,324.4" stroke="#000080" stroke-width="4.0"/>
<polyline points="232.1,1187.6 285.4,977.5 338.7,906.0 391.9,810.0 445.2,716.4 498.5,633.2 551.8,537.3 605.1,441.0 658.3,384.2 711.6,332.5 764.9,302.2 818.2,274.0 871.5,257.1 924.7,221.6 978.0,206.9 1031.3,198.6 1084.6,174.4 1137.9,157.1 1191.1,146.4 1244.4,137.2 1297.7,134.1 1351.0,138.7 1404.3,150.9 1457.5,184.0 1510.8,296.5" stroke="#a52a2a" stroke-width="4.0"/>
<polyline points="232.1,1249.4 285.4,1028.6 338.7,939.5 391.9,849.4 445.2,735.0 498.5,630.0 551.8,514.5 605.1,428.0 658.3,368.0 711.6,325.0 764.9,285.0 818.2,253.0 871.5,231.0 924.7,208.0 978.0,194.0 1031.3,175.7 1084.6,163.7 1137.9,145.0 1191.1,129.6 1244.4,123.6 1297.7,123.4 1351.0,130.3 1404.3,147.9 1457.5,192.5 1510.8,330.0" stroke="#ffa500" stroke-width="4.0"/>
<polyline points="232.1,1263.8 285.4,999.0 338.7,925.5 391.9,820.5 445.2,732.0 498.5,609.8 551.8,496.2 605.1,425.0 658.3,365.6 711.6,322.8 764.9,282.8 818.2,245.0 871.5,221.0 924.7,195.5 978.0,174.7 1031.3,170.9 1084.6,161.8 1137.9,139.0 1191.1,133.3 1244.4,121.0 1297.7,118.8 1351.0,124.1 1404.3,144.8 1457.5,181.5 1510.8,315.6" stroke="#ffc0cb" stroke-width="4.0"/>
<polyline points="232.1,983.6 285.4,843.8 338.7,754.6 391.9,693.5 445.2,627.0 498.5,543.6 551.8,459.1 605.1,404.0 658.3,358.0 711.6,328.1 764.9,276.5 818.2,255.6 871.5,235.7 924.7,216.0 978.0,197.9 1031.3,194.8 1084.6,177.9 1137.9,168.6 1191.1,155.6 1244.4,149.4 1297.7,140.2 1351.0,150.2 1404.3,165.5 1457.5,208.6 1510.8,342.0" stroke="#008000" stroke-width="4.0"/>
<polyline points="232.1,1021.0 285.4,819.8 338.7,718.9 391.9,683.8 445.2,618.1 498.5,497.1 551.8,432.1 605.1,359.9 658.3,313.2 711.6,272.9 764.9,242.6 818.2,215.9 871.5,196.6 924.7,184.5 978.0,166.3 1031.3,155.0 1084.6,149.5 1137.9,132.6 1191.1,117.3 1244.4,113.4 1297.7,106.5 1351.0,107.3 1404.3,142.3 1457.5,206.8 1510.8,338.2" stroke="#00ffff" stroke-width="4.0"/>
<polyline points="232.1,1318.1 285.4,1010.0 338.7,942.2 391.9,823.8 445.2,729.8 498.5,630.0 551.8,503.3 605.1,426.1 658.3,349.5 711.6,301.3 764.9,255.0 818.2,220.4 871.5,215.8 924.7,174.2 978.0,155.0 1031.3,133.6 1084.6,123.1 1137.9,102.0 1191.1,96.2 1244.4,81.7 1297.7,72.1 1351.0,76.4 1404.3,83.5 1457.5,113.3 1510.8,210.5" stroke="#dc143c" stroke-width="4.0"/>
</g>
<rect x="205.5" y="1.9" width="1332.0" height="1374.8" fill="none" stroke="#000" stroke-width="4"/>
<path d="M395.8 1376.7v-16M395.8 1.9v16M586.1 1376.7v-16M586.1 1.9v16M776.4 1376.7v-16M776.4 1.9v16M966.6 1376.7v-16M966.6 1.9v16M1156.9 1376.7v-16M1156.9 1.9v16M1347.2 1376.7v-16M1347.2 1.9v16M205.5 1196.8h8M1537.5 1196.8h-8M205.5 1091.6h8M1537.5 1091.6h-8M205.5 1017.0h8M1537.5 1017.0h-8M205.5 959.1h8M1537.5 959.1h-8M205.5 911.8h8M1537.5 911.8h-8M205.5 871.8h8M1537.5 871.8h-8M205.5 837.1h8M1537.5 837.1h-8M205.5 806.6h8M1537.5 806.6h-8M205.5 779.2h16M1537.5 779.2h-16M205.5 599.4h8M1537.5 599.4h-8M205.5 494.2h8M1537.5 494.2h-8M205.5 419.5h8M1537.5 419.5h-8M205.5 361.7h8M1537.5 361.7h-8M205.5 314.3h8M1537.5 314.3h-8M205.5 274.3h8M1537.5 274.3h-8M205.5 239.7h8M1537.5 239.7h-8M205.5 209.1h8M1537.5 209.1h-8M205.5 181.8h16M1537.5 181.8h-16M205.5 1.9h8M1537.5 1.9h-8" stroke="#000" stroke-width="1.5" fill="none"/>
<text class="t" x="209.0" y="1429.5" text-anchor="middle">−1.0</text>
<text class="t" x="399.3" y="1429.5" text-anchor="middle">−0.5</text>
<text class="t" x="589.1" y="1429.5" text-anchor="middle">0.0</text>
<text class="t" x="779.6" y="1429.5" text-anchor="middle">0.5</text>
<text class="t" x="970.6" y="1429.5" text-anchor="middle">1.0</text>
<text class="t" x="1161.5" y="1429.5" text-anchor="middle">1.5</text>
<text class="t" x="1350.4" y="1429.5" text-anchor="middle">2.0</text>
<text class="t" x="1540.5" y="1429.5" text-anchor="middle">2.5</text>
<text class="t" x="66.5" y="198.4">10</text><text class="s" x="127" y="173.4">−1</text>
<text class="t" x="66.5" y="795.9">10</text><text class="s" x="127" y="770.9">−2</text>
<text class="t" x="66.5" y="1393.3">10</text><text class="s" x="127" y="1368.3">−3</text>
<text class="t" x="1271.3" y="689.2" style="fill:#00ff00;font-size:47.7px">BLG500</text>
<text class="t" x="1271.3" y="757.9" style="fill:#800080;font-size:47.7px">BLG501</text>
<text class="t" x="1271.3" y="826.6" style="fill:#a52a2a;font-size:47.7px">BLG504</text>
<text class="t" x="1271.3" y="895.3" style="fill:#008000;font-size:47.7px">BLG505</text>
<text class="t" x="1271.3" y="964.0" style="fill:#ffc0cb;font-size:47.7px">BLG506</text>
<text class="t" x="1271.3" y="1032.8" style="fill:#ffa500;font-size:47.7px">BLG511</text>
<text class="t" x="1271.3" y="1101.5" style="fill:#00ffff;font-size:47.7px">BLG512</text>
<text class="t" x="1271.3" y="1170.2" style="fill:#000080;font-size:47.7px">BLG534</text>
<text class="t" x="1271.3" y="1238.9" style="fill:#dc143c;font-size:47.7px">BLG611</text>
<g class="a" stroke="#000" stroke-width="0.35">
<text font-size="50" transform="translate(36.7,925.3) rotate(-90) scale(1.085,1)">Detection</text>
<text font-size="50" transform="translate(36.7,679.5) rotate(-90) scale(1.10,1)">efficiency</text>
<text font-size="43.5" transform="translate(757.4,1491.4) scale(1.025,1)">log</text>
<text font-size="43.5" transform="translate(823.8,1491.4) scale(1.1,1)">(</text>
<text font-size="43.5" transform="translate(845.1,1491.4) scale(0.9,1)" font-style="italic">t</text>
<text font-size="29.3" transform="translate(856.2,1498.1) scale(0.9,1)">E</text>
<text font-size="43.5" transform="translate(885.2,1491.4) scale(1.03,1)">/</text>
<text font-size="43.5" transform="translate(910.9,1491.4) scale(0.68,1)">1</text>
<text font-size="43.5" transform="translate(943.9,1491.4) scale(1.15,1)">d</text>
<text font-size="43.5" transform="translate(970.0,1491.4) scale(1.03,1)">)</text>
</g>
</svg>
</body></html>
